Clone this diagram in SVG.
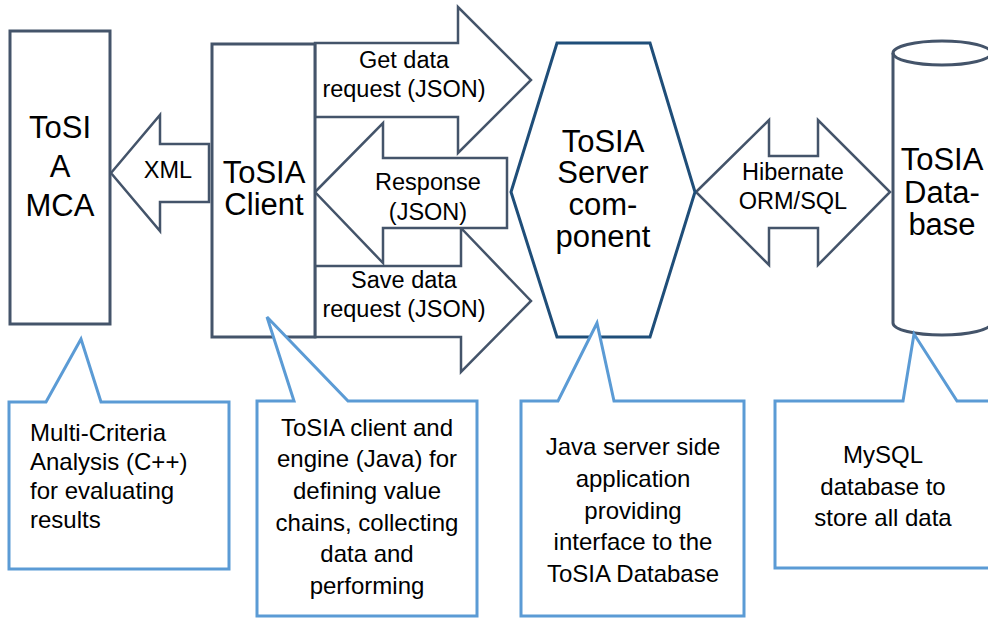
<svg xmlns="http://www.w3.org/2000/svg" width="988" height="618" viewBox="0 0 988 618">
  <style>
    .box { fill: #fff; stroke: #44546A; stroke-width: 3; }
    .hex { fill: #fff; stroke: #1F4E79; stroke-width: 3; stroke-linejoin: miter; }
    .arrow { fill: #fff; stroke: #44546A; stroke-width: 2.5; stroke-linejoin: miter; }
    .call { fill: #fff; stroke: #5B9BD5; stroke-width: 3; stroke-linejoin: miter; }
    text { font-family: "Liberation Sans", Arial, sans-serif; fill: #000; }
    .big { font-size: 31px; text-anchor: middle; }
    .lbl { font-size: 23.5px; text-anchor: middle; }
    .note { font-size: 24px; }
    .mid { text-anchor: middle; }
  </style>

  <!-- connectors: block arrows between components -->
  <g id="connectors">
    <g id="xml-arrow">
      <polygon class="arrow" points="111,173 160,115 160,144 209,144 209,202 160,202 160,231"/>
      <text class="lbl" x="168" y="178">XML</text>
    </g>
    <g id="get-arrow">
      <polygon class="arrow" points="315,43 458,43 458,7 531,80 458,153 458,117 315,117"/>
      <text class="lbl" x="404" y="68">Get data</text>
      <text class="lbl" x="404" y="97">request (JSON)</text>
    </g>
    <g id="save-arrow">
      <polygon class="arrow" points="315,266 461,266 461,228 531,301 461,372 461,337 315,337"/>
      <text class="lbl" x="404" y="288">Save data</text>
      <text class="lbl" x="404" y="317">request (JSON)</text>
    </g>
    <g id="response-arrow">
      <polygon class="arrow" points="315,192 383,123 383,158 507,158 507,228 383,228 383,263"/>
      <text class="lbl" x="428" y="190">Response</text>
      <text class="lbl" x="428" y="220">(JSON)</text>
    </g>
    <g id="orm-arrow">
      <polygon class="arrow" points="696,192 769,120 769,156 818,156 818,120 890,192 818,265 818,228 769,228 769,265"/>
      <text class="lbl" x="793" y="180">Hibernate</text>
      <text class="lbl" x="793" y="209">ORM/SQL</text>
    </g>
  </g>

  <!-- components -->
  <g id="mca">
    <rect class="box" x="10" y="31" width="100" height="293"/>
    <text class="big" x="60" y="138">ToSI</text>
    <text class="big" x="60" y="177">A</text>
    <text class="big" x="60" y="216">MCA</text>
  </g>

  <g id="client">
    <rect class="box" x="212" y="44" width="103" height="293"/>
    <text class="big" x="264" y="183">ToSIA</text>
    <text class="big" x="264" y="215">Client</text>
  </g>

  <g id="server">
    <polygon class="hex" points="557,43 650,43 695,192 650,337 557,337 511,192"/>
    <text class="big" x="603" y="152">ToSIA</text>
    <text class="big" x="603" y="183">Server</text>
    <text class="big" x="603" y="215">com-</text>
    <text class="big" x="603" y="247">ponent</text>
  </g>

  <g id="database">
    <path class="box" d="M893,53 L893,323 A49,12 0 0 0 991,323 L991,53 A49,12 0 0 0 893,53 Z"/>
    <path class="box" style="fill:none" d="M893,53 A49,12 0 0 0 991,53"/>
    <text class="big" x="942" y="170">ToSIA</text>
    <text class="big" x="942" y="203">Data-</text>
    <text class="big" x="942" y="235">base</text>
  </g>

  <!-- callout notes -->
  <g id="note-mca">
    <path class="call" d="M9,402 L46,402 L81,339 L101,402 L229,402 L229,569 L9,569 Z"/>
    <text class="note" x="30" y="441">Multi-Criteria</text>
    <text class="note" x="30" y="470">Analysis (C++)</text>
    <text class="note" x="30" y="499">for evaluating</text>
    <text class="note" x="30" y="528">results</text>
  </g>

  <g id="note-client">
    <path class="call" d="M257,401 L294,401 L267,317 L348,401 L477,401 L477,616 L257,616 Z"/>
    <text class="note mid" x="367" y="436">ToSIA client and</text>
    <text class="note mid" x="367" y="467">engine (Java) for</text>
    <text class="note mid" x="367" y="499">defining value</text>
    <text class="note mid" x="367" y="531">chains, collecting</text>
    <text class="note mid" x="367" y="562">data and</text>
    <text class="note mid" x="367" y="594">performing</text>
  </g>

  <g id="note-server">
    <path class="call" d="M521,401 L558,401 L597,323 L614,401 L744,401 L744,616 L521,616 Z"/>
    <text class="note mid" x="633" y="455">Java server side</text>
    <text class="note mid" x="633" y="487">application</text>
    <text class="note mid" x="633" y="519">providing</text>
    <text class="note mid" x="633" y="550">interface to the</text>
    <text class="note mid" x="633" y="582">ToSIA Database</text>
  </g>

  <g id="note-database">
    <path class="call" d="M775,401 L903,401 L914,334 L957,401 L1000,401 L1000,568 L775,568 Z"/>
    <text class="note mid" x="883" y="463">MySQL</text>
    <text class="note mid" x="883" y="495">database to</text>
    <text class="note mid" x="883" y="526">store all data</text>
  </g>
</svg>
